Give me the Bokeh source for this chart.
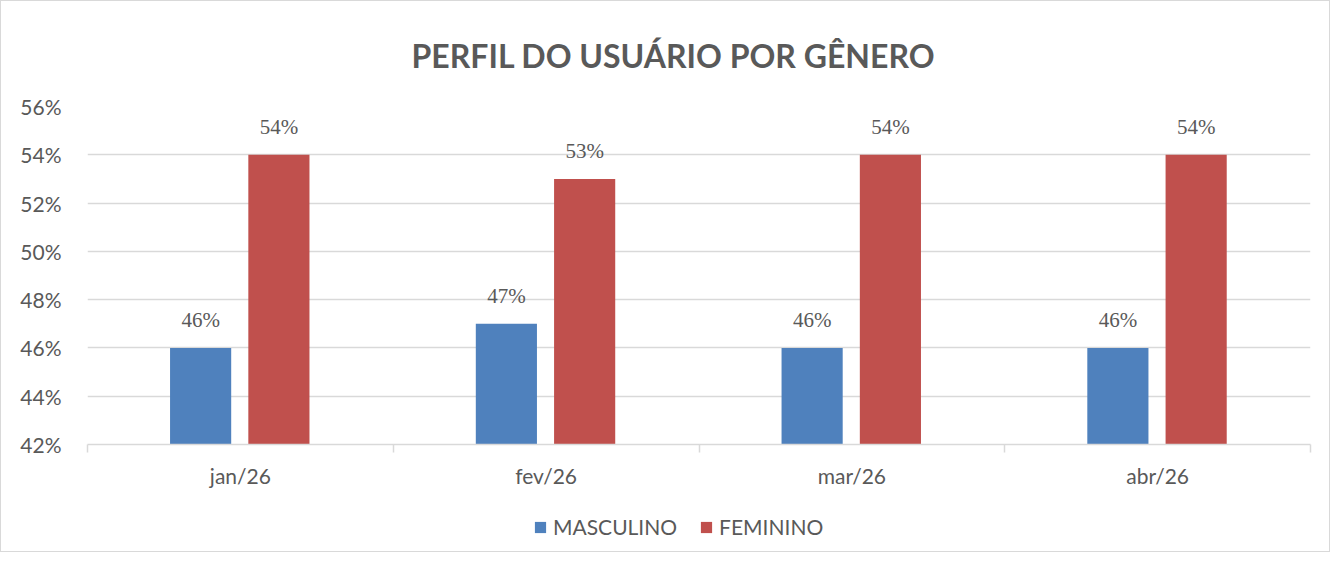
import numpy as np
from bokeh.plotting import figure
from bokeh.layouts import column
from bokeh.models import (ColumnDataSource, Range1d, FixedTicker, PrintfTickFormatter,
                          Legend, LegendItem, LabelSet, Title)
from bokeh.embed import file_html
from bokeh.resources import INLINE

categories = ["jan/26", "fev/26", "mar/26", "abr/26"]
masculino = [46, 47, 46, 46]
feminino = [54, 53, 54, 54]
y_ticks = [42, 44, 46, 48, 50, 52, 54, 56]
series = ["MASCULINO", "FEMININO"]

BLUE = "#4F81BD"
RED = "#C0504D"
TXT = "#595959"
FONT = "Lato"

idx = np.arange(len(categories)) + 0.5
src_m = ColumnDataSource(dict(x=idx - 0.13, top=masculino,
                              lab=[f"{v}%" for v in masculino]))
src_f = ColumnDataSource(dict(x=idx + 0.126, top=feminino,
                              lab=[f"{v}%" for v in feminino]))

W = 1328
H_MAIN = 493
H_LEG = 57

p = figure(width=W, height=H_MAIN, output_backend="svg", toolbar_location=None,
           x_range=Range1d(0, len(categories)), y_range=Range1d(y_ticks[0], y_ticks[-1]),
           min_border_left=86, min_border_right=19, min_border_top=105, min_border_bottom=50)

p.outline_line_color = None
p.background_fill_color = "white"
p.border_fill_color = "white"

p.vbar(x="x", top="top", bottom=y_ticks[0], width=0.2, source=src_m,
       fill_color=BLUE, line_color=None)
p.vbar(x="x", top="top", bottom=y_ticks[0], width=0.2, source=src_f,
       fill_color=RED, line_color=None)

for s in (src_m, src_f):
    p.add_layout(LabelSet(x="x", y="top", text="lab", source=s, y_offset=28,
                          text_align="center", text_baseline="middle",
                          text_font=FONT, text_font_size="21px", text_color=TXT))

# axes
p.yaxis.ticker = FixedTicker(ticks=y_ticks)
p.yaxis.formatter = PrintfTickFormatter(format="%d%%")
p.yaxis.axis_line_color = None
p.yaxis.major_tick_line_color = None
p.yaxis.minor_tick_line_color = None
p.yaxis.major_label_standoff = 20
p.yaxis.major_label_text_font = FONT
p.yaxis.major_label_text_font_size = "21px"
p.yaxis.major_label_text_color = TXT

p.xaxis.ticker = FixedTicker(ticks=list(idx), minor_ticks=list(range(len(categories) + 1)))
p.xaxis.major_label_overrides = {float(v): c for v, c in zip(idx, categories)}
p.xaxis.axis_line_color = "#d9d9d9"
p.xaxis.axis_line_width = 1.5
p.xaxis.major_tick_line_color = None
p.xaxis.major_tick_out = 0
p.xaxis.minor_tick_line_color = "#d9d9d9"
p.xaxis.minor_tick_line_width = 1.5
p.xaxis.minor_tick_in = 0
p.xaxis.minor_tick_out = 8
p.xaxis.major_label_standoff = 10
p.xaxis.major_label_text_font = FONT
p.xaxis.major_label_text_font_size = "21px"
p.xaxis.major_label_text_color = TXT

p.xgrid.grid_line_color = None
p.ygrid.grid_line_color = "#d9d9d9"
p.ygrid.grid_line_width = 1.5

# title
t = Title(text="PERFIL DO USUÁRIO POR GÊNERO", align="left", text_font=FONT,
          text_font_size="32px", text_font_style="bold", text_color=TXT,
          standoff=64, offset=324)
p.add_layout(t, "above")

# legend strip (its glyph renderers share the bar data but lie outside the strip's range)
lg = figure(width=W, height=H_LEG, output_backend="svg", toolbar_location=None,
            x_range=Range1d(100, 101), y_range=Range1d(100, 101),
            min_border=0, min_border_left=0, min_border_right=0,
            min_border_top=0, min_border_bottom=0)
lg.axis.visible = False
lg.grid.visible = False
lg.outline_line_color = None
lg.border_fill_color = "white"
lm = lg.vbar(x="x", top="top", width=0.2, source=src_m, fill_color=BLUE, line_color=None)
lf = lg.vbar(x="x", top="top", width=0.2, source=src_f, fill_color=RED, line_color=None)
legend = Legend(items=[LegendItem(label=series[0], renderers=[lm]),
                       LegendItem(label=series[1], renderers=[lf])],
                orientation="horizontal", location=(446, 12),
                label_text_font=FONT, label_text_font_size="21px", label_text_color=TXT,
                glyph_width=14, glyph_height=14, label_standoff=6, spacing=22,
                padding=0, margin=0, border_line_color=None, background_fill_alpha=0)
lg.add_layout(legend, "center")

layout = column(p, lg, spacing=0, styles={"border": "1px solid #d9d9d9"})

open("out.html", "w").write(file_html(layout, INLINE))
